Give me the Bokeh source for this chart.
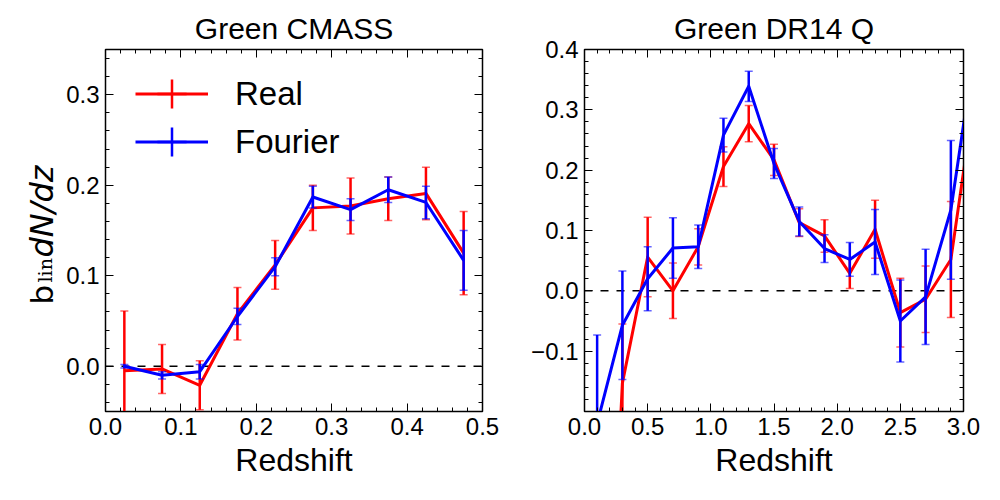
import math
import numpy as np
from bokeh.plotting import figure
from bokeh.models import (ColumnDataSource, Range1d, LinearAxis, FixedTicker,
                          CustomJSTickFormatter, CustomLabelingPolicy, Span, Label,
                          Legend, LegendItem)
from bokeh.layouts import row
from bokeh.embed import file_html
from bokeh.resources import INLINE

# ---------------- data ----------------
cmass_z = [0.025, 0.075, 0.125, 0.175, 0.225, 0.275, 0.325, 0.375, 0.425, 0.475]
cmass_real = [-0.005, -0.003, -0.021, 0.058, 0.112, 0.175, 0.177, 0.185, 0.191, 0.125]
cmass_real_err = [0.066, 0.027, 0.027, 0.029, 0.027, 0.025, 0.031, 0.024, 0.029, 0.046]
cmass_fourier = [0.000, -0.010, -0.006, 0.055, 0.110, 0.187, 0.173, 0.195, 0.181, 0.117]
cmass_fourier_err = [0.002, 0.004, 0.008, 0.009, 0.010, 0.012, 0.012, 0.014, 0.018, 0.033]

q_z = [0.1, 0.3, 0.5, 0.7, 0.9, 1.1, 1.3, 1.5, 1.7, 1.9, 2.1, 2.3, 2.5, 2.7, 2.9, 3.1]
q_real = [-1.0, -0.153, 0.056, 0.000, 0.073, 0.206, 0.277, 0.217, 0.113, 0.091,
          0.029, 0.102, -0.036, -0.014, 0.052, 0.342]
q_real_err = [0.100, 0.098, 0.066, 0.046, 0.030, 0.033, 0.030, 0.026, 0.023, 0.027,
              0.025, 0.048, 0.057, 0.055, 0.096, 0.100]
q_fourier = [-0.220, -0.057, 0.020, 0.071, 0.073, 0.258, 0.339, 0.211, 0.115, 0.070,
             0.052, 0.081, -0.050, -0.010, 0.134, 0.416]
q_fourier_err = [0.147, 0.090, 0.053, 0.050, 0.036, 0.028, 0.025, 0.025, 0.024, 0.023,
                 0.028, 0.054, 0.068, 0.079, 0.115, 0.100]

cmass_xticks = [0.0, 0.1, 0.2, 0.3, 0.4, 0.5]
cmass_yticks = [0.0, 0.1, 0.2, 0.3]
q_xticks = [0.0, 0.5, 1.0, 1.5, 2.0, 2.5, 3.0]
q_yticks = [-0.1, 0.0, 0.1, 0.2, 0.3, 0.4]

series_names = ["Real", "Fourier"]
series_colors = ["#ff0000", "#0000ff"]

FMT = "return tick.toFixed(1).replace('-', '\\u2212');"
HIDE = "for (const i of [...indices.ones()]) { indices.unset(i) } return indices;"

H = 495
FRAME_TOP = 49
FRAME_BOTTOM = 411
LAB_W = 63


def minor_list(lo, hi, step):
    n = int(round((hi - lo) / step))
    return [round(lo + i * step, 6) for i in range(n + 1)]


def style_axis(ax, ticker, show_labels=True):
    ax.ticker = ticker
    ax.major_tick_in = 8
    ax.major_tick_out = 0
    ax.minor_tick_in = 4
    ax.minor_tick_out = 0
    ax.major_tick_line_color = "black"
    ax.minor_tick_line_color = "black"
    ax.axis_line_color = "black"
    ax.formatter = CustomJSTickFormatter(code=FMT)
    ax.major_label_text_font = "Liberation Sans"
    ax.major_label_text_color = "black"
    if show_labels:
        ax.major_label_text_font_size = "24px"
        ax.major_label_standoff = 6
    else:
        ax.major_label_text_font_size = "0px"
        ax.major_label_standoff = 0
        ax.major_label_policy = CustomLabelingPolicy(code=HIDE)


def make_panel(title, z, series, xr, yr, xticks, yticks, xminor, yminor,
               width, bl, br, legend=False):
    p = figure(width=width, height=H, x_range=Range1d(*xr), y_range=Range1d(*yr),
               output_backend="svg", toolbar_location=None,
               min_border_left=bl, min_border_right=br,
               min_border_top=FRAME_TOP, min_border_bottom=H - FRAME_BOTTOM)
    p.grid.visible = False
    p.outline_line_color = "black"
    p.outline_line_width = 1.5
    p.title.text = title
    p.title.align = "center"
    p.title.text_font = "Liberation Sans"
    p.title.text_font_size = "30px"
    p.title.text_font_style = "normal"
    p.title.text_color = "black"
    p.title.standoff = 10

    style_axis(p.xaxis[0], FixedTicker(ticks=xticks, minor_ticks=xminor))
    style_axis(p.yaxis[0], FixedTicker(ticks=yticks, minor_ticks=yminor))
    p.xaxis[0].axis_label = "Redshift"
    p.xaxis[0].axis_label_text_font = "Liberation Sans"
    p.xaxis[0].axis_label_text_font_size = "32px"
    p.xaxis[0].axis_label_text_font_style = "normal"
    p.xaxis[0].axis_label_text_color = "black"
    p.xaxis[0].axis_label_standoff = 4

    top = LinearAxis()
    style_axis(top, FixedTicker(ticks=xticks, minor_ticks=xminor), show_labels=False)
    p.add_layout(top, "above")
    right = LinearAxis()
    style_axis(right, FixedTicker(ticks=yticks, minor_ticks=yminor), show_labels=False)
    p.add_layout(right, "right")

    zero = Span(location=0, dimension="width", line_color="black",
                line_width=1.5, line_dash="8 8", level="underlay")
    p.add_layout(zero)

    items = []
    for name, color, (vals, errs) in zip(series_names, series_colors, series):
        v = np.array(vals)
        e = np.array(errs)
        src = ColumnDataSource(dict(z=z, y=v, lo=v - e, hi=v + e))
        p.segment(x0="z", y0="lo", x1="z", y1="hi", source=src,
                  line_color=color, line_width=2.5)
        p.scatter(x="z", y="hi", source=src, marker="dash", size=8,
                  line_color=color, line_width=1.5, line_alpha=0.6)
        p.scatter(x="z", y="lo", source=src, marker="dash", size=8,
                  line_color=color, line_width=1.5, line_alpha=0.6)
        ln = p.line(x="z", y="y", source=src, line_color=color, line_width=3,
                    line_join="round")
        # legend-only sample of the error bar (hidden in the plot area)
        bar = p.scatter(x="z", y="y", source=src, marker="cross", size=10,
                        line_color=color, line_width=2.5, visible=False)
        items.append(LegendItem(label=name, renderers=[ln, bar]))

    if legend:
        # two single-item legends so that rows can sit closer than the glyph height
        for item, loc in zip(items, [(30, 281), (30, 233)]):
            lg = Legend(items=[item], location=loc, glyph_width=73, glyph_height=73,
                        padding=0, margin=0, label_standoff=27,
                        label_text_font="Liberation Sans", label_text_font_size="33px",
                        label_text_color="black",
                        border_line_alpha=0, background_fill_alpha=0)
            p.add_layout(lg)
    return p


# narrow figure holding the y-axis label of the left panel: b_lin dN/dz
lab = figure(width=LAB_W, height=H, x_range=Range1d(0, 1), y_range=Range1d(0, 1),
             output_backend="svg", toolbar_location=None,
             x_axis_type=None, y_axis_type=None,
             min_border_left=0, min_border_right=0,
             min_border_top=FRAME_TOP, min_border_bottom=H - FRAME_BOTTOM)
lab.outline_line_color = None
lab.add_layout(Label(x=41, y=FRAME_BOTTOM - 304, x_units="screen", y_units="screen",
                     text="b", angle=math.pi / 2, text_font="DejaVu Sans",
                     text_font_size="31px", text_baseline="alphabetic",
                     text_align="left", text_color="black"))
lab.add_layout(Label(x=44.5, y=FRAME_BOTTOM - 282, x_units="screen", y_units="screen",
                     text="lin", angle=math.pi / 2, text_font="DejaVu Serif",
                     text_font_size="19px", text_baseline="alphabetic",
                     text_align="left", text_color="black"))
lab.add_layout(Label(x=41.5, y=FRAME_BOTTOM - 257, x_units="screen", y_units="screen",
                     text="dN/dz", angle=math.pi / 2, text_font="DejaVu Sans",
                     text_font_size="32px", text_font_style="italic",
                     text_baseline="alphabetic", text_align="left", text_color="black"))

p1 = make_panel("Green CMASS", cmass_z,
                [(cmass_real, cmass_real_err), (cmass_fourier, cmass_fourier_err)],
                (0.0, 0.5), (-0.05, 0.35), cmass_xticks, cmass_yticks,
                minor_list(0.0, 0.5, 0.02), minor_list(-0.04, 0.34, 0.02),
                width=500 - LAB_W, bl=103 - LAB_W, br=18, legend=True)

p2 = make_panel("Green DR14 Q", q_z,
                [(q_real, q_real_err), (q_fourier, q_fourier_err)],
                (0.0, 3.0), (-0.2, 0.4), q_xticks, q_yticks,
                minor_list(0.0, 3.0, 0.1), minor_list(-0.2, 0.4, 0.02),
                width=498, bl=84, br=498 - 84 - 379)

layout = row(lab, p1, p2)
open("out.html", "w").write(file_html(layout, INLINE))
